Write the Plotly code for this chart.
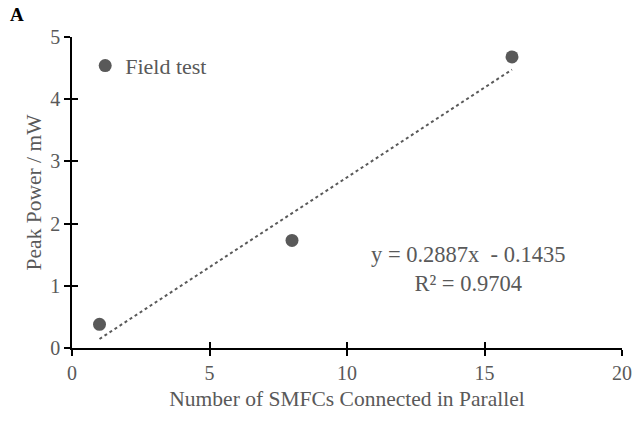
import plotly.graph_objects as go

# Field test measurements
n_smfc = [1, 8, 16]
peak_power = [0.38, 1.73, 4.68]

# Linear fit reported on the chart
slope = 0.2887
intercept = -0.1435
r_squared = 0.9704

x_ticks = [0, 5, 10, 15, 20]
y_ticks = [0, 1, 2, 3, 4, 5]

grey = "#595959"
font_family = "Times New Roman"

fit_x = [min(n_smfc), max(n_smfc)]
fit_y = [slope * v + intercept for v in fit_x]

fig = go.Figure()
fig.add_trace(go.Scatter(
    x=fit_x, y=fit_y, mode="lines",
    line=dict(color=grey, width=2, dash="dot"),
    showlegend=False, hoverinfo="skip",
))
fig.add_trace(go.Scatter(
    x=n_smfc, y=peak_power, mode="markers", name="Field test",
    marker=dict(color=grey, size=13),
))
# invisible helper trace for the inner half of the crossing ticks
fig.add_trace(go.Scatter(x=[0], y=[0], xaxis="x2", yaxis="y2",
                         mode="markers", marker=dict(opacity=0),
                         showlegend=False, hoverinfo="skip"))

axis_common = dict(
    showgrid=False, zeroline=False, showline=True, automargin=False,
    linecolor="black", linewidth=1.5,
    ticks="outside", ticklen=6, tickwidth=1.5, tickcolor="black",
    tickfont=dict(family=font_family, size=20, color=grey),
)

fig.update_layout(
    width=635, height=423,
    margin=dict(l=72, r=13, t=37, b=75),
    paper_bgcolor="white", plot_bgcolor="white",
    font=dict(family=font_family, color=grey),
    xaxis=dict(range=[0, 20], tickvals=x_ticks,
               title=dict(text="Number of SMFCs Connected in Parallel",
                          font=dict(family=font_family, size=21.5, color=grey),
                          standoff=8),
               **axis_common),
    yaxis=dict(range=[0, 5], tickvals=y_ticks, ticksuffix="\u00a0\u00a0",
               title=dict(text="Peak Power / mW",
                          font=dict(family=font_family, size=21.5, color=grey),
                          standoff=3),
               **axis_common),
    xaxis2=dict(range=[0, 20], tickvals=x_ticks, overlaying="x",
                showgrid=False, zeroline=False, showline=False,
                ticks="inside", ticklen=6, tickwidth=1.5, tickcolor="black",
                showticklabels=False),
    yaxis2=dict(range=[0, 5], tickvals=y_ticks, overlaying="y",
                showgrid=False, zeroline=False, showline=False,
                ticks="inside", ticklen=6, tickwidth=1.5, tickcolor="black",
                showticklabels=False),
    legend=dict(x=0.024, y=0.975, xanchor="left", yanchor="top",
                bgcolor="rgba(0,0,0,0)",
                font=dict(family=font_family, size=22, color=grey),
                itemwidth=30),
    annotations=[
        dict(x=14.4, y=1.27, xref="x", yref="y", showarrow=False,
             text=f"y = {slope:.4f}x  - {abs(intercept):.4f}<br>R² = {r_squared:.4f}",
             font=dict(family=font_family, size=22.5, color=grey), align="center"),
        dict(x=0.0, y=1.0, xref="paper", yref="paper", xanchor="left", yanchor="top",
             showarrow=False, text="<b>A</b>", xshift=-64, yshift=35,
             font=dict(family=font_family, size=19, color="black")),
    ],
)

fig.write_html("out.html")
